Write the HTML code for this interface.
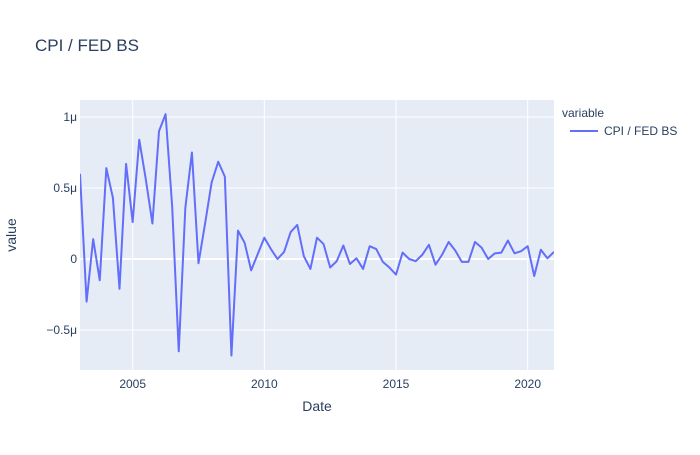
<!DOCTYPE html>
<html><head><meta charset="utf-8"><style>
body{margin:0;background:#fff;}
text{font-family:"Liberation Sans",sans-serif;fill:#2a3f5f;}
</style></head><body>
<svg id="chart" width="700" height="450" xmlns="http://www.w3.org/2000/svg">
<rect width="700" height="450" fill="#fff"/>
<text x="35" y="51" font-size="17">CPI / FED BS</text>
<rect x="80" y="100" width="474" height="270" fill="#e5ecf6"/>
<g id="grid"></g>
<g id="ticks"></g>
<clipPath id="clip"><rect x="80" y="100" width="474" height="270"/></clipPath>
<path id="line" clip-path="url(#clip)" fill="none" stroke="#636efa" stroke-width="2" stroke-linejoin="round"/>
<text x="317" y="411" font-size="14" text-anchor="middle">Date</text>
<text transform="translate(16,235) rotate(-90)" font-size="14" text-anchor="middle">value</text>
<text x="562" y="117" font-size="12">variable</text>
<g>
<line x1="570" y1="131" x2="598" y2="131" stroke="#636efa" stroke-width="2"/>
<text x="604" y="135" font-size="12">CPI / FED BS</text>
</g>
</svg>
<script>
const startYear = 2003;
const values = [0.60,-0.30,0.14,-0.15,0.64,0.43,-0.21,0.67,0.26,0.84,0.56,0.25,0.90,1.02,0.37,-0.65,0.36,0.75,-0.03,0.25,0.54,0.685,0.58,-0.68,0.20,0.115,-0.08,0.035,0.15,0.07,0.0,0.05,0.19,0.24,0.02,-0.07,0.15,0.105,-0.06,-0.015,0.095,-0.035,0.005,-0.07,0.09,0.07,-0.02,-0.06,-0.11,0.045,0.0,-0.015,0.03,0.10,-0.04,0.03,0.12,0.06,-0.02,-0.02,0.12,0.08,0.0,0.04,0.045,0.13,0.04,0.055,0.09,-0.12,0.065,0.005,0.05];
const xTicks = [2005,2010,2015,2020];
const yTicks = [-0.5,0,0.5,1];
const yTickLabels = ["−0.5μ","0","0.5μ","1μ"];
const X0=80,X1=554,Y0=100,Y1=370, xMin=2003, xMax=2021, yMin=-0.7817, yMax=1.1197;
const sx=v=>X0+(v-xMin)/(xMax-xMin)*(X1-X0);
const sy=v=>Y1-(v-yMin)/(yMax-yMin)*(Y1-Y0);
const NS="http://www.w3.org/2000/svg";
const grid=document.getElementById('grid'), ticks=document.getElementById('ticks');
xTicks.forEach(t=>{
  const l=document.createElementNS(NS,'line');
  
  
  l.setAttribute('x1',sx(t));l.setAttribute('x2',sx(t));l.setAttribute('y1',Y0);l.setAttribute('y2',Y1);
  l.setAttribute('stroke','#fff');l.setAttribute('stroke-width','1');grid.appendChild(l);
  const tx=document.createElementNS(NS,'text');
  
  
  tx.setAttribute('x',sx(t));tx.setAttribute('y',Y1+18);tx.setAttribute('font-size','12');tx.setAttribute('text-anchor','middle');
  tx.textContent=t;ticks.appendChild(tx);
});
yTicks.forEach((t,i)=>{
  const l=document.createElementNS(NS,'line');
  
  
  l.setAttribute('x1',X0);l.setAttribute('x2',X1);l.setAttribute('y1',sy(t));l.setAttribute('y2',sy(t));
  l.setAttribute('stroke','#fff');l.setAttribute('stroke-width',t===0?'2':'1');grid.appendChild(l);
  const tx=document.createElementNS(NS,'text');
  
  
  tx.setAttribute('x',X0-3);tx.setAttribute('y',sy(t)+4);tx.setAttribute('font-size','12');tx.setAttribute('text-anchor','end');
  tx.textContent=yTickLabels[i];ticks.appendChild(tx);
});
let d='';
values.forEach((v,i)=>{const x=sx(startYear+i*0.25);d+=(i?'L':'M')+x.toFixed(2)+' '+sy(v).toFixed(2);});
document.getElementById('line').setAttribute('d',d);
</script>
</body></html>
